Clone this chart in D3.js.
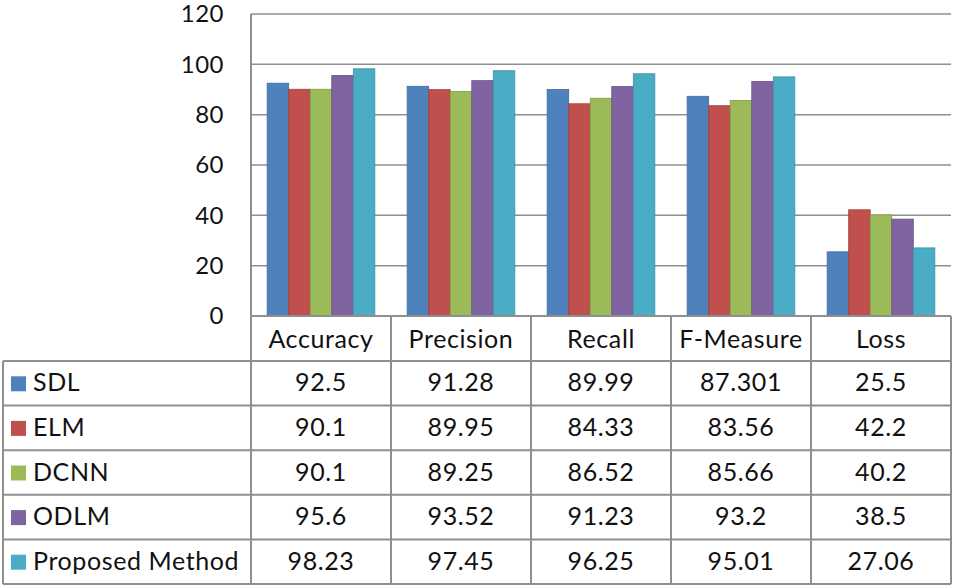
<!DOCTYPE html>
<html>
<head>
<meta charset="utf-8">
<script src="https://cdn.jsdelivr.net/npm/d3@7"></script>
<style>
body { margin: 0; background: #fff; }
text { font-family: Lato, "Open Sans", sans-serif; fill: #111; }
</style>
</head>
<body>
<div id="chart"></div>
<script>
// chart data
var categories = ["Accuracy", "Precision", "Recall", "F-Measure", "Loss"];
var seriesNames = ["SDL", "ELM", "DCNN", "ODLM", "Proposed Method"];
var sdl = [92.5, 91.28, 89.99, 87.301, 25.5];
var elm = [90.1, 89.95, 84.33, 83.56, 42.2];
var dcnn = [90.1, 89.25, 86.52, 85.66, 40.2];
var odlm = [95.6, 93.52, 91.23, 93.2, 38.5];
var proposed = [98.23, 97.45, 96.25, 95.01, 27.06];
var yTicks = [0, 20, 40, 60, 80, 100, 120];

var seriesValues = [sdl, elm, dcnn, odlm, proposed];
var colors = ["#4F81BD", "#C0504D", "#9BBB59", "#8064A2", "#4BACC6"];
var strokes = ["#3F6C9F", "#A33F3C", "#809D48", "#6A5287", "#3C91A8"];

var width = 955, height = 588;
var plot = { left: 251, right: 951, top: 14, bottom: 316 };
var table = { left: 3, headerBottom: 361, rowH: 44.6 };
var cellFont = "25px", cellSpacing = "0.6px";

var svg = d3.select("#chart").append("svg")
	.attr("width", width)
	.attr("height", height);

var x = d3.scaleBand().domain(categories).range([plot.left, plot.right]).paddingInner(0).paddingOuter(0);
var x1 = d3.scaleBand().domain(seriesNames).range([0, x.bandwidth()]).paddingOuter(0.75).paddingInner(0);
var y = d3.scaleLinear().domain([0, 120]).range([plot.bottom, plot.top]);

// gridlines
svg.append("g").selectAll("line").data(yTicks.filter(d => d > 0)).join("line")
	.attr("x1", plot.left).attr("x2", plot.right)
	.attr("y1", d => y(d)).attr("y2", d => y(d))
	.attr("stroke", "#8f8f8f").attr("stroke-width", 1.5);

// y axis labels
var yAxis = d3.axisLeft(y).tickValues(yTicks).tickSize(0).tickPadding(27);
var ga = svg.append("g").attr("transform", `translate(${plot.left},0)`).call(yAxis);
ga.select(".domain").remove();
ga.selectAll("text").style("font-size", "24px").style("letter-spacing", "0.5px")
	.style("font-family", "Lato, 'Open Sans', sans-serif").attr("fill", "#111");

// bars
var groups = svg.append("g").selectAll("g").data(categories).join("g")
	.attr("transform", d => `translate(${x(d)},0)`);
groups.selectAll("rect")
	.data((c, ci) => seriesNames.map((s, si) => ({ s: s, si: si, v: seriesValues[si][ci] })))
	.join("rect")
	.attr("x", d => x1(d.s))
	.attr("width", x1.bandwidth())
	.attr("y", d => y(d.v))
	.attr("height", d => y(0) - y(d.v))
	.attr("fill", d => colors[d.si])
	.attr("stroke", d => strokes[d.si])
	.attr("stroke-width", 0.8);

// table lines
var lines = svg.append("g").attr("stroke", "#8f8f8f").attr("stroke-width", 2).attr("fill", "none");
var tableBottom = table.headerBottom + table.rowH * seriesNames.length;
lines.append("line").attr("x1", plot.left).attr("x2", plot.right).attr("y1", plot.bottom).attr("y2", plot.bottom);
lines.append("line").attr("x1", plot.left).attr("x2", plot.left).attr("y1", plot.top).attr("y2", tableBottom);
categories.forEach(c => {
	lines.append("line").attr("x1", x(c) + x.bandwidth()).attr("x2", x(c) + x.bandwidth())
		.attr("y1", plot.bottom).attr("y2", tableBottom);
});
for (var r = 0; r <= seriesNames.length; r++) {
	var yy = table.headerBottom + r * table.rowH;
	lines.append("line").attr("x1", table.left).attr("x2", plot.right).attr("y1", yy).attr("y2", yy);
}
lines.append("line").attr("x1", table.left).attr("x2", table.left).attr("y1", table.headerBottom).attr("y2", tableBottom);

// header labels
svg.append("g").selectAll("text").data(categories).join("text")
	.attr("x", d => x(d) + x.bandwidth() / 2)
	.attr("y", (plot.bottom + table.headerBottom) / 2 + 9)
	.attr("text-anchor", "middle")
	.style("font-size", cellFont).style("letter-spacing", cellSpacing)
	.text(d => d);

// rows
seriesNames.forEach((s, si) => {
	var cy = table.headerBottom + si * table.rowH + table.rowH / 2;
	var row = svg.append("g");
	row.append("rect").attr("x", 11).attr("y", cy - 7).attr("width", 15).attr("height", 15).attr("fill", colors[si]);
	row.append("text").attr("x", 33).attr("y", cy + 8)
		.style("font-size", cellFont).style("letter-spacing", cellSpacing).text(s);
	row.selectAll("text.v").data(seriesValues[si]).join("text")
		.attr("class", "v")
		.attr("x", (d, i) => x(categories[i]) + x.bandwidth() / 2)
		.attr("y", cy + 8)
		.attr("text-anchor", "middle")
		.style("font-size", cellFont).style("letter-spacing", cellSpacing)
		.text(d => d);
});
</script>
</body>
</html>
